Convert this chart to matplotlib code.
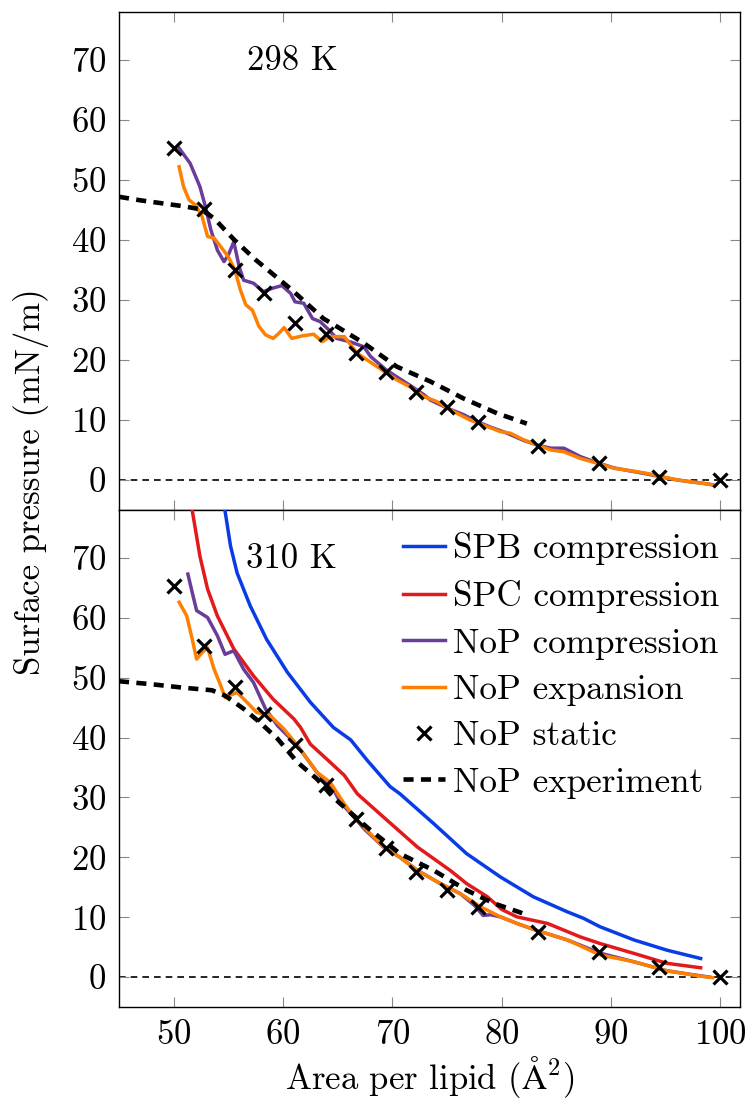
import matplotlib
matplotlib.use("Agg")
import matplotlib.pyplot as plt

plt.rcParams['font.family'] = ['cmr10', 'DejaVu Serif']
plt.rcParams['mathtext.fontset'] = 'cm'
plt.rcParams['axes.unicode_minus'] = False
plt.rcParams['axes.formatter.use_mathtext'] = True

# ---------------- data ----------------
x_static = [50.0, 52.8, 55.6, 58.3, 61.1, 63.9, 66.7, 69.4, 72.2, 75.0, 77.8, 83.3, 88.9, 94.4, 100.0]
static_298 = [55.3, 45.2, 35.0, 31.2, 26.1, 24.4, 21.1, 18.0, 14.7, 12.2, 9.7, 5.7, 2.9, 0.55, 0.0]
static_310 = [65.3, 55.3, 48.4, 43.9, 38.8, 32.1, 26.4, 21.5, 17.6, 14.5, 11.7, 7.55, 4.2, 1.7, 0.0]

exp_298_x = [45, 47, 49, 51, 52.5, 53.7, 55.5, 57.5, 60.8, 63.7, 65.0, 67.4, 70.4, 73.5, 76.5, 79.6, 82.3]
exp_298_y = [47.2, 46.6, 46.1, 45.6, 45.1, 43.6, 40.1, 36.7, 31.7, 26.9, 25.5, 22.8, 18.9, 16.4, 13.6, 11.1, 9.4]

exp_310_x = [45, 48, 51, 53.5, 54.7, 56.4, 57.9, 59.5, 61.3, 63.1, 64.6, 67.7, 70.7, 73.8, 76.8, 79.3, 82.0]
exp_310_y = [49.4, 48.9, 48.3, 47.9, 47.0, 44.8, 42.5, 39.8, 35.9, 33.1, 30.0, 25.0, 20.6, 17.8, 14.5, 12.3, 10.6]

nopc_298_x = [50.5, 51.5, 52.4, 52.9, 53.4, 54.0, 54.6, 55.0, 55.5, 56.0, 56.4, 57.3, 58.2, 59.1, 59.9,
              60.7, 61.1, 61.9, 62.7, 63.4, 64.2, 64.9, 66.2, 67.4, 68.0, 69.4, 70.4, 71.6, 72.9, 73.5,
              75.0, 76.5, 77.8, 79.0, 80.5, 82.0, 83.3, 84.5, 85.7, 87.2, 88.7, 90.3, 91.8, 93.3, 94.9,
              96.1, 97.3, 98.2, 99.3]
nopc_298_y = [55.3, 52.8, 48.9, 45.6, 41.7, 38.3, 36.4, 37.5, 39.7, 35.5, 33.3, 32.8, 31.4, 32.0, 32.4,
              31.1, 29.7, 29.45, 26.9, 26.4, 25.0, 23.6, 23.0, 22.2, 20.6, 18.4, 17.2, 15.8, 14.2, 13.3,
              12.0, 10.9, 9.7, 8.8, 7.8, 6.6, 5.8, 5.3, 5.3, 3.9, 2.9, 2.0, 1.5, 1.0, 0.4,
              0.0, -0.3, -0.5, -0.8]

nope_298_x = [50.5, 50.9, 51.4, 52.0, 52.6, 53.1, 53.7, 54.3, 55.0, 55.6, 56.1, 56.6, 57.2, 57.8, 58.4,
              59.1, 59.6, 60.1, 60.8, 61.7, 62.8, 63.6, 64.3, 65.6, 66.8, 68.6, 70.4, 71.6, 72.9, 74.1,
              75.3, 77.1, 78.7, 79.9, 80.8, 82.0, 83.3, 84.5, 85.7, 87.2, 88.7, 90.3, 91.8, 93.3, 94.9,
              96.1, 97.3, 98.2, 99.3]
nope_298_y = [52.2, 48.9, 46.7, 45.8, 43.9, 40.6, 40.3, 38.9, 37.2, 35.0, 31.7, 29.2, 28.3, 25.6, 24.2,
              23.6, 24.4, 25.4, 23.6, 24.0, 24.3, 23.05, 23.9, 23.9, 21.1, 18.9, 16.7, 15.55, 13.9, 13.05,
              11.7, 10.0, 8.9, 8.05, 7.8, 6.7, 5.8, 5.0, 4.7, 3.6, 2.8, 1.95, 1.55, 1.1, 0.45,
              0.0, -0.3, -0.5, -0.8]

spb_310_x = [54.6, 55.2, 55.8, 57.0, 58.5, 60.4, 62.5, 64.6, 66.2, 67.7, 69.8, 70.7, 73.8, 76.8, 79.9,
             82.9, 86.0, 87.5, 89.0, 92.1, 95.1, 98.2]
spb_310_y = [79.0, 72.0, 67.5, 62.0, 56.4, 50.9, 45.9, 41.7, 39.6, 36.2, 31.8, 30.6, 25.6, 20.6, 16.7,
             13.4, 10.9, 9.8, 8.4, 6.2, 4.5, 3.1]

spc_310_x = [51.6, 52.4, 53.1, 54.0, 55.5, 57.3, 59.1, 61.0, 61.6, 62.5, 64.0, 65.6, 66.8, 69.2, 72.3,
             75.3, 76.8, 78.7, 80.0, 81.4, 84.2, 87.2, 89.0, 92.1, 95.1, 98.2]
spc_310_y = [79.0, 70.3, 64.8, 60.3, 54.8, 50.3, 46.4, 43.1, 41.7, 38.9, 36.4, 33.7, 30.6, 26.7, 21.7,
             17.8, 15.6, 13.4, 11.3, 10.05, 8.95, 6.7, 5.6, 3.95, 2.3, 1.55]

nopc_310_x = [51.3, 51.7, 52.1, 53.1, 54.0, 54.7, 55.5, 56.4, 57.3, 58.4, 59.5, 61.3, 63.1, 64.6, 65.2,
              66.5, 67.5, 69.2, 70.7, 72.3, 74.4, 76.2, 77.5, 78.3, 79.0, 79.9, 81.4, 83.2, 86.0, 89.0,
              92.1, 95.1, 98.2, 99.0]
nopc_310_y = [67.3, 64.2, 61.2, 60.05, 57.0, 53.9, 54.5, 51.4, 49.2, 44.8, 42.0, 38.7, 34.2, 31.4, 29.3,
              26.7, 24.6, 21.7, 20.0, 17.8, 15.6, 13.95, 12.0, 10.3, 10.4, 10.05, 8.95, 7.8, 6.2, 4.0,
              2.55, 1.05, 0.2, 0.0]

nope_310_x = [50.5, 51.2, 51.7, 52.1, 52.6, 53.1, 53.7, 54.3, 54.7, 55.8, 56.7, 57.6, 58.8, 60.1, 61.3,
              62.2, 63.1, 64.3, 65.6, 66.5, 69.2, 70.7, 72.3, 74.4, 76.2, 78.1, 79.9, 81.4, 83.2, 86.0,
              89.0, 92.1, 95.1, 98.2, 99.3]
nope_310_y = [62.6, 60.3, 56.4, 53.1, 54.2, 55.0, 51.4, 48.7, 46.7, 47.55, 45.9, 44.2, 43.7, 41.4, 38.7,
              36.5, 34.2, 32.55, 28.95, 26.7, 21.7, 20.0, 17.8, 15.6, 13.95, 11.7, 10.05, 8.95, 7.8, 6.2,
              3.7, 2.55, 1.05, 0.15, -0.1]

labels = ['SPB compression', 'SPC compression', 'NoP compression', 'NoP expansion',
          'NoP static', 'NoP experiment']
panel_titles = ['298 K', '310 K']
xticks = [50, 60, 70, 80, 90, 100]
yticks = [0, 10, 20, 30, 40, 50, 60, 70]

# ---------------- style ----------------
C_BLUE = '#0a3ce6'
C_RED = '#e31a1c'
C_PURPLE = '#6a3d9a'
C_ORANGE = '#ff7f00'
FS = 25
LW = 2.5
exp_style = dict(color='black', lw=3.3, linestyle=(0, (2.2, 1.6)))
static_style = dict(color='black', marker='x', linestyle='none', markersize=10.5, mew=2.3)

fig = plt.figure(figsize=(7.49, 10.99), dpi=100)
ax1 = fig.add_axes([119 / 749, 1 - 510 / 1099, 621 / 749, 498 / 1099])
ax2 = fig.add_axes([119 / 749, 1 - 1007 / 1099, 621 / 749, 497 / 1099])

for ax in (ax1, ax2):
    ax.set_xlim(45, 101.8)
    ax.set_ylim(-5, 78)
    ax.set_xticks(xticks)
    ax.set_yticks(yticks)
    ax.tick_params(direction='in', length=7, width=0.8, color='#888888',
                   top=True, right=True, labelsize=FS, pad=9)
    for s in ax.spines.values():
        s.set_linewidth(1.0)
        s.set_color('black')
    ax.axhline(0, color='black', lw=1.2, linestyle=(0, (4, 3)), zorder=1)

ax1.tick_params(labelbottom=False)

# top panel
ax1.plot(nopc_298_x, nopc_298_y, color=C_PURPLE, lw=LW, zorder=3)
ax1.plot(nope_298_x, nope_298_y, color=C_ORANGE, lw=LW, zorder=3)
ax1.plot(exp_298_x, exp_298_y, zorder=4, **exp_style)
ax1.plot(x_static, static_298, zorder=5, **static_style)
ax1.text(60.9, 69.8, panel_titles[0], fontsize=FS, ha='center', va='center')

# bottom panel
ax2.plot(spb_310_x, spb_310_y, color=C_BLUE, lw=LW, zorder=3, label=labels[0])
ax2.plot(spc_310_x, spc_310_y, color=C_RED, lw=LW, zorder=3, label=labels[1])
ax2.plot(nopc_310_x, nopc_310_y, color=C_PURPLE, lw=LW, zorder=3, label=labels[2])
ax2.plot(nope_310_x, nope_310_y, color=C_ORANGE, lw=LW, zorder=3, label=labels[3])
ax2.plot(x_static, static_310, zorder=5, label=labels[4], **static_style)
ax2.plot(exp_310_x, exp_310_y, zorder=4, label=labels[5], **exp_style)
ax2.text(60.8, 69.8, panel_titles[1], fontsize=FS, ha='center', va='center')

handles, labs = ax2.get_legend_handles_labels()
leg = ax2.legend(handles, labs, loc='upper right', bbox_to_anchor=(0.967, 0.955),
                 frameon=False, fontsize=25.3, handlelength=1.2, handletextpad=0.23,
                 labelspacing=0.42, borderpad=0, borderaxespad=0)

fig.text(31 / 749, 1 - 482 / 1099, 'Surface pressure (mN/m)', rotation=90,
         ha='center', va='center', fontsize=FS)
fig.text(429.5 / 749, 1 - 1077 / 1099, r'Area per lipid ($\mathrm{\AA}^2$)',
         ha='center', va='center', fontsize=FS)

fig.savefig('out.png', dpi=100)
